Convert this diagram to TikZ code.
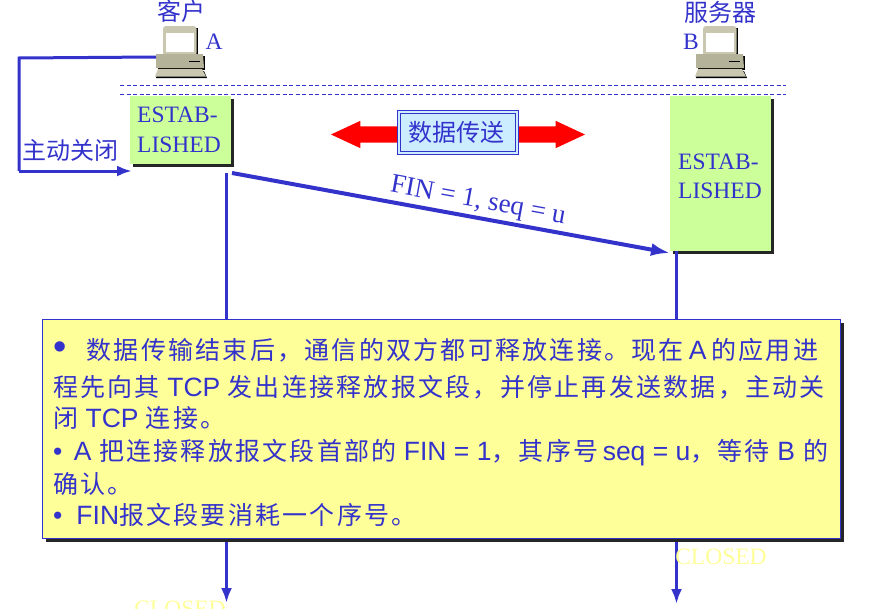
\documentclass[tikz,border=0pt]{standalone}
\usepackage{fontspec}
\setmainfont{Liberation Serif}
\newfontfamily\cjk{Noto Sans CJK SC}
\newfontfamily\cjkwide[LetterSpace=9]{Noto Sans CJK SC}
\newfontfamily\arialfont{Liberation Sans}
\usetikzlibrary{arrows.meta, shadows, shapes.arrows}
\definecolor{lineblue}{HTML}{3333CC}
\definecolor{estabgreen}{HTML}{CCFF99}
\definecolor{noteyellow}{HTML}{FFFF99}
\definecolor{xferblue}{HTML}{CCECFF}
\definecolor{pcbody}{HTML}{B5B29A}
\definecolor{pclight}{HTML}{C9C7AF}
\newcommand{\zh}[1]{{\fontsize{25}{30}\selectfont\cjkwide #1}}

\begin{document}
\begin{tikzpicture}[x=1pt, y=-1pt,
                flow/.style = {draw=lineblue, line width=3pt},
                flowtip/.style = {flow, -{Latex[length=15pt, width=11pt]}},
                fintip/.style = {draw=lineblue, line width=4pt, -{Latex[length=19pt, width=13pt]}},
                dataarrow/.style = {double arrow, fill=red, inner xsep=0pt, inner ysep=8pt, minimum width=27pt, minimum height=254pt,
                        double arrow head extend=5.5pt, double arrow tip angle=50},
                guide/.style = {draw=lineblue, line width=0.8pt, dash pattern=on 4pt off 2.5pt},
                caption/.style = {text=lineblue, inner sep=0pt, font=\fontsize{24}{28}\selectfont\cjk},
                hostname/.style = {text=lineblue, inner sep=0pt, font=\fontsize{23.5}{28}\selectfont},
                estab/.style = {fill=estabgreen, minimum width=101pt, inner sep=0pt,
                        drop shadow={shadow xshift=3pt, shadow yshift=-3pt, fill=black!85, opacity=1}},
                estabtext/.style = {text=lineblue, inner sep=0pt, align=left, font=\fontsize{23.5}{30}\selectfont},
                note/.style = {fill=noteyellow, draw=lineblue, line width=1pt, minimum width=798pt, minimum height=219pt,
                        drop shadow={shadow xshift=4pt, shadow yshift=-4pt, fill=black!85, opacity=1}},
                noteline/.style = {anchor=base west, text=lineblue, inner sep=0pt, font=\fontsize{26.5}{30}\selectfont\arialfont},
                closed/.style = {text=noteyellow, inner sep=0pt, font=\fontsize{23.5}{28}\selectfont},
                computer/.pic = {
                        \fill[black] (8.5,2) -- (43,2) -- (43,28) -- (8.5,28) -- cycle;
                        \fill[pclight, rounded corners=3pt] (8,0) -- (41.5,0) -- (41.5,30) -- (8,30) -- cycle;
                        \fill[white] (11,7) rectangle (38.5,26);
                        \fill[black] (3,30) -- (50,30) -- (50,44) -- (3,44) -- cycle;
                        \fill[pcbody] (1,28) -- (48,28) -- (49,42) -- (1,42) -- cycle;
                        \draw[black, line width=1pt] (34,35) -- (45,35);
                        \fill[black] (3,45) -- (49,45) -- (52,52) -- (1,52) -- cycle;
                        \fill[pclight] (3,43) -- (47,43) -- (51,50.5) -- (0,50.5) -- cycle;
                }]
                \useasboundingbox (0, 0) rectangle (878, 608);

                \node[inner sep=0pt, minimum width=51pt, minimum height=51pt] at (180.5, 51.5) (pcA) {};
                \node[inner sep=0pt, minimum width=51pt, minimum height=51pt] at (720.5, 51.5) (pcB) {};
                \pic at (155, 26) {computer};
                \pic at (695, 26) {computer};
                \node[caption] at (181, 11) (client) {客户};
                \node[caption] at (720, 12) (server) {服务器};
                \node[hostname] at (214, 42) (nameA) {A};
                \node[hostname] at (691, 42) (nameB) {B};

                \draw[guide] (120, 85.5) -- (786, 85.5);
                \draw[guide] (120, 94.5) -- (786, 94.5);

                \coordinate (lifeA) at (226.5, 173);
                \coordinate (endA) at (226.5, 603);
                \coordinate (endB) at (676.5, 604);
                \coordinate (finA) at (232, 173);
                \coordinate (finB) at (670, 253);
                \coordinate (cornerT) at (19, 58);
                \coordinate (cornerB) at (19, 171);
                \coordinate (closeIn) at (132, 171);
                \coordinate (pcOut) at (156, 57);

                \node[estab, minimum height=68pt] at (180.5, 130) (estabA) {};
                \node[estab, minimum height=155pt] at (720.5, 173.5) (estabB) {};
                \node[estabtext] at (179, 130) (textA) {ESTAB-\\LISHED};
                \node[estabtext, font=\fontsize{23.5}{28.5}\selectfont] at (720, 176.5) (textB) {ESTAB-\\LISHED};

                \draw[flow] (pcOut) -- (cornerT) -- (cornerB);
                \draw[flowtip] (cornerB) -- (closeIn);
                \node[caption] at (71, 150) (activeClose) {主动关闭};

                \draw[fintip] (finA) -- (finB);
                \node[text=lineblue, inner sep=0pt, rotate=-10.4, font=\fontsize{27}{30}\selectfont] at (478, 202) (finLabel) {FIN = 1, seq = u};

                \draw[flowtip] (lifeA) -- (endA);
                \draw[flowtip] (estabB.south -| endB) -- (endB);

                \node[dataarrow] at (458, 134.5) (dataFlow) {};
                \node[draw=lineblue, fill=xferblue, line width=1pt, double=xferblue, double distance=2pt, inner sep=0pt,
                        minimum width=118pt, minimum height=41pt] at (458, 132.5) (xfer) {};
                \node[caption] at (456, 132) (xferText) {数据传送};

                \node[note] at (441, 428.5) (noteBox) {};
                \node[noteline] at (53, 359) (line1) {{\fontsize{38}{38}\selectfont •}\hspace{20pt}\zh{数据传输结束后，通信的双方都可释放连接。现在}\hspace{5pt}A\hspace{5pt}\zh{的应用进}};
                \node[noteline] at (53, 396) (line2) {\zh{程先向其} TCP \zh{发出连接释放报文段，并停止再发送数据，主动关}};
                \node[noteline] at (53, 427) (line3) {\zh{闭} TCP \zh{连接。}};
                \node[noteline] at (53, 460) (line4) {•\hspace{11.5pt}A \zh{把连接释放报文段首部的} FIN = 1\zh{，其序号}\hspace{4.5pt}seq = u\zh{，等待} B\hspace{1.5pt} \zh{的}};
                \node[noteline] at (53, 493) (line5) {\zh{确认。}};
                \node[noteline] at (53, 524) (line6) {•\hspace{14pt}FIN\zh{报文段要消耗一个序号。}};

                \node[closed] at (721, 557) (closedB) {CLOSED};
                \node[closed] at (180, 609) (closedA) {CLOSED};
                \end{tikzpicture}
\end{document}
